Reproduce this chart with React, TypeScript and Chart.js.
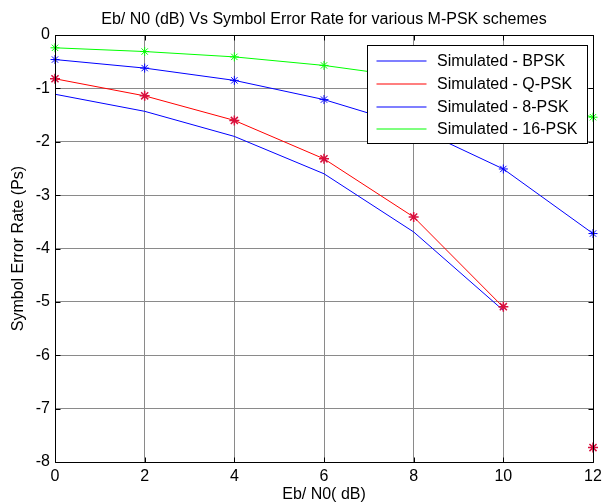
import React, { useEffect, useRef } from 'react';
import { Chart, registerables } from 'chart.js';

Chart.register(...registerables);

// ---- data ----
const ebn0 = [0, 2, 4, 6, 8, 10, 12];
const ebn0ToTen = [0, 2, 4, 6, 8, 10];

const simBPSK = [-1.11, -1.43, -1.9, -2.6, -3.69, -5.16];
const simQPSK = [-0.82, -1.14, -1.6, -2.32, -3.41, -5.1];
const sim8PSK = [-0.46, -0.62, -0.85, -1.21, -1.72, -2.51, -3.72];
const sim16PSK = [-0.24, -0.31, -0.41, -0.57, -0.8, -1.1, -1.54];

const thQPSK = [-0.82, -1.14, -1.6, -2.32, -3.41, -5.09, -7.73];
const th8PSK = [-0.46, -0.62, -0.85, -1.21, -1.72, -2.51, -3.72];
const th16PSK = [-0.24, -0.31, -0.41, -0.57, -0.8, -1.1, -1.54];

const xTickValues = [0, 2, 4, 6, 8, 10, 12];
const yTickValues = [0, -1, -2, -3, -4, -5, -6, -7, -8];

const titleText = 'Eb/ N0 (dB) Vs Symbol Error Rate for various M-PSK schemes';
const xTitle = 'Eb/ N0( dB)';
const yTitle = 'Symbol Error Rate (Ps)';

const FONT = "'Liberation Sans', Arial, sans-serif";

const pts = (xs: number[], ys: number[]) => ys.map((y, i) => ({ x: xs[i], y }));

const lineDs = (label: string, xs: number[], ys: number[], color: string) => ({
  label,
  data: pts(xs, ys),
  borderColor: color,
  backgroundColor: color,
  borderWidth: 1,
  pointRadius: 0,
  pointHoverRadius: 0,
  showLine: true,
  tension: 0,
  clip: false as const,
  isLegend: true,
});

const starDs = (label: string, xs: number[], ys: number[], color: string, r: number, w: number) => ({
  label,
  data: pts(xs, ys),
  borderColor: color,
  backgroundColor: color,
  showLine: false,
  pointStyle: 'star',
  pointRadius: r,
  pointBorderWidth: w,
  pointBorderColor: color,
  clip: false as const,
  isLegend: false,
});

const frameAndLegend = {
  id: 'frameAndLegend',
  afterDatasetsDraw(chart: any) {
    const { ctx, chartArea } = chart;
    const { left, right, top, bottom } = chartArea;
    const xs = chart.scales.x;
    const ys = chart.scales.y;
    ctx.save();
    ctx.strokeStyle = '#000';
    ctx.lineWidth = 1;
    ctx.beginPath();
    const L = Math.round(left) + 0.5;
    const R = Math.round(right) + 0.5;
    const T = Math.round(top) + 0.5;
    const B = Math.round(bottom) + 0.5;
    ctx.rect(L, T, R - L, B - T);
    const tl = 5;
    xTickValues.forEach((v) => {
      const px = Math.round(xs.getPixelForValue(v)) + 0.5;
      ctx.moveTo(px, B);
      ctx.lineTo(px, B - tl);
      ctx.moveTo(px, T);
      ctx.lineTo(px, T + tl);
    });
    yTickValues.forEach((v) => {
      const py = Math.round(ys.getPixelForValue(v)) + 0.5;
      ctx.moveTo(L, py);
      ctx.lineTo(L + tl, py);
      ctx.moveTo(R, py);
      ctx.lineTo(R - tl, py);
    });
    ctx.stroke();
    ctx.restore();
  },
  afterDraw(chart: any) {
    const { ctx, chartArea } = chart;
    const items = chart.data.datasets.filter((d: any) => d.isLegend);
    const w = 220;
    const rowH = 22.67;
    const h = 98;
    const bx = Math.round(chartArea.right - 6 - w) + 0.5;
    const by = Math.round(chartArea.top + 10) + 0.5;
    ctx.save();
    ctx.fillStyle = '#fff';
    ctx.fillRect(bx, by, w, h);
    ctx.strokeStyle = '#000';
    ctx.lineWidth = 1;
    ctx.strokeRect(bx, by, w, h);
    ctx.font = `16px ${FONT}`;
    ctx.textBaseline = 'middle';
    ctx.textAlign = 'left';
    items.forEach((d: any, i: number) => {
      const cy = Math.round(by + 15.7 + i * rowH);
      ctx.strokeStyle = d.borderColor;
      ctx.lineWidth = 1.2;
      ctx.beginPath();
      ctx.moveTo(bx + 9, cy);
      ctx.lineTo(bx + 59, cy);
      ctx.stroke();
      ctx.fillStyle = '#000';
      ctx.fillText(d.label, bx + 69.5, cy + 0.5);
    });
    ctx.restore();
  },
};

export default function App() {
  const ref = useRef<HTMLCanvasElement | null>(null);

  useEffect(() => {
    document.body.style.margin = '0';
    const canvas = ref.current;
    if (!canvas) return;
    const chart = new Chart(canvas, {
      type: 'scatter',
      data: {
        datasets: [
          starDs('Theory - Q-PSK', ebn0, thQPSK, '#d8103e', 5, 1.5),
          starDs('Theory - 8-PSK', ebn0, th8PSK, '#0000ff', 4.5, 1),
          starDs('Theory - 16-PSK', ebn0, th16PSK, '#00ff00', 4.5, 1),
          lineDs('Simulated - BPSK', ebn0ToTen, simBPSK, '#0000ff'),
          lineDs('Simulated - Q-PSK', ebn0ToTen, simQPSK, '#ff0000'),
          lineDs('Simulated - 8-PSK', ebn0, sim8PSK, '#0000ff'),
          lineDs('Simulated - 16-PSK', ebn0, sim16PSK, '#00ff00'),
        ] as any,
      },
      options: {
        responsive: false,
        animation: false,
        devicePixelRatio: 1,
        events: [],
        layout: { padding: { top: 0, right: 10, bottom: 0, left: 0 } },
        plugins: {
          legend: { display: false },
          tooltip: { enabled: false },
          title: {
            display: true,
            text: titleText,
            fullSize: false,
            color: '#000',
            font: { family: FONT, size: 16, weight: 'normal' },
            padding: { top: 9.8, bottom: 6 },
          },
        },
        scales: {
          x: {
            type: 'linear',
            min: 0,
            max: 12,
            afterBuildTicks: (s: any) => {
              s.ticks = xTickValues.map((v) => ({ value: v }));
            },
            afterFit: (s: any) => {
              s.height = 42;
              s.paddingLeft = 0;
              s.paddingRight = 0;
            },
            border: { display: false },
            grid: { color: '#8a8a8a', lineWidth: 1, drawTicks: false },
            ticks: {
              padding: 5,
              color: '#000',
              font: { family: FONT, size: 16 },
              maxRotation: 0,
              autoSkip: false,
            },
            title: {
              display: true,
              text: xTitle,
              color: '#000',
              font: { family: FONT, size: 16 },
              padding: { top: 0, bottom: 0 },
            },
          },
          y: {
            type: 'linear',
            min: -8,
            max: 0,
            afterBuildTicks: (s: any) => {
              s.ticks = yTickValues.map((v) => ({ value: v }));
            },
            afterFit: (s: any) => {
              s.width = 55;
              s.paddingTop = 0;
              s.paddingBottom = 0;
            },
            border: { display: false },
            grid: { color: '#8a8a8a', lineWidth: 1, drawTicks: false },
            ticks: {
              padding: 5,
              color: '#000',
              font: { family: FONT, size: 16 },
              autoSkip: false,
            },
            title: {
              display: true,
              text: yTitle,
              color: '#000',
              font: { family: FONT, size: 16 },
              padding: { top: 9, bottom: 0 },
            },
          },
        },
      } as any,
      plugins: [frameAndLegend],
    });
    return () => chart.destroy();
  }, []);

  return (
    <div style={{ width: 603, height: 504, background: '#fff' }}>
      <canvas ref={ref} width={603} height={504} style={{ width: 603, height: 504, display: 'block' }} />
    </div>
  );
}
